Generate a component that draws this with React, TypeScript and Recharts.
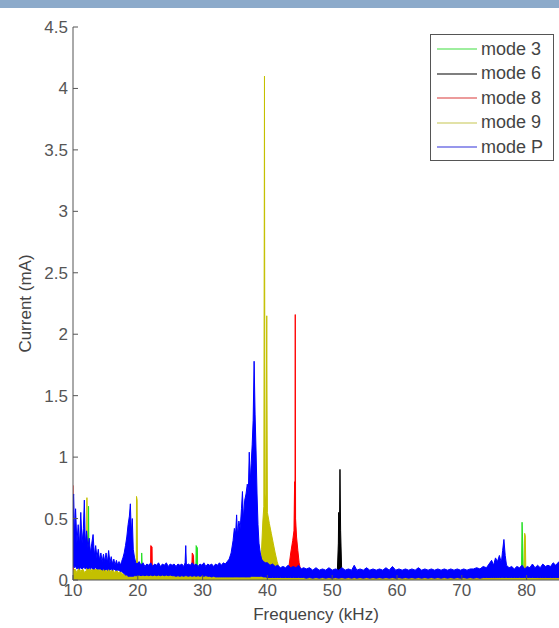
import React from 'react';
import { ComposedChart, Area, XAxis, YAxis, Legend } from 'recharts';

const FONT = '"Liberation Sans", Arial, sans-serif';

const xTicks = [10, 20, 30, 40, 50, 60, 70, 80];
const yTicks = [0, 0.5, 1, 1.5, 2, 2.5, 3, 3.5, 4, 4.5];

// [frequency kHz, current mA]
const mode3: [number, number][] = [
  [10, 0.02], [12.35, 0.02], [12.4, 0.6], [12.5, 0.02], [13.75, 0.02], [13.8, 0.22], [13.9, 0.02],
  [20.55, 0.02], [20.6, 0.22], [20.75, 0.02], [28.95, 0.02], [29.0, 0.28], [29.2, 0.26], [29.25, 0.02],
  [79.2, 0.02], [79.3, 0.47], [79.4, 0.3], [79.5, 0.02], [85, 0.02],
];

const mode6: [number, number][] = [
  [10, 0.01], [28.35, 0.01], [28.45, 0.18], [28.6, 0.15], [28.7, 0.01], [50.6, 0.01], [50.8, 0.08],
  [50.95, 0.3], [51.0, 0.55], [51.1, 0.25], [51.2, 0.9], [51.3, 0.4], [51.45, 0.1], [51.6, 0.02], [85, 0.01],
];

const mode8: [number, number][] = [
  [10, 0.77], [10.05, 0.02], [12, 0.02], [16, 0.02], [21.95, 0.02], [22.0, 0.28], [22.2, 0.27], [22.25, 0.02],
  [28.3, 0.02], [28.4, 0.22], [28.6, 0.2], [28.7, 0.02], [35, 0.02], [43.0, 0.03], [43.3, 0.1], [43.6, 0.22],
  [43.9, 0.32], [44.1, 0.4], [44.2, 0.8], [44.25, 0.45], [44.3, 2.16], [44.35, 0.5], [44.5, 0.35], [44.7, 0.24],
  [44.9, 0.14], [45.2, 0.06], [45.5, 0.02], [60, 0.015], [85, 0.015],
];

const mode9: [number, number][] = [
  [10, 0.07], [10.3, 0.09], [10.6, 0.06], [10.9, 0.1], [11.2, 0.07], [11.5, 0.09], [11.8, 0.06], [12.1, 0.08],
  [12.15, 0.67], [12.25, 0.08], [12.5, 0.1], [12.8, 0.07], [13.1, 0.11], [13.4, 0.08], [13.7, 0.1], [14.0, 0.07],
  [14.3, 0.11], [14.6, 0.08], [14.9, 0.1], [15.2, 0.07], [15.5, 0.09], [15.8, 0.07], [16.1, 0.09], [16.4, 0.06],
  [16.7, 0.08], [17.0, 0.06], [17.3, 0.07], [17.6, 0.05], [18.0, 0.04], [18.5, 0.03], [19.0, 0.03], [19.4, 0.04],
  [19.75, 0.05], [19.8, 0.68], [19.9, 0.65], [19.95, 0.05], [20.3, 0.06], [20.7, 0.05], [21.1, 0.06], [21.5, 0.05],
  [21.9, 0.06], [22.3, 0.05], [22.7, 0.06], [23.1, 0.05], [23.5, 0.06], [24, 0.05], [24.5, 0.06], [25, 0.05],
  [25.5, 0.05], [26, 0.04], [26.5, 0.05], [27, 0.04], [27.5, 0.05], [28, 0.04], [28.5, 0.05], [29, 0.04],
  [29.5, 0.05], [30, 0.04], [31, 0.04], [32, 0.03], [33, 0.03], [34, 0.03], [35, 0.03], [36, 0.03], [37, 0.03],
  [37.8, 0.04], [38.2, 0.12], [38.4, 0.05], [38.9, 0.1], [39.1, 0.25], [39.3, 0.48], [39.45, 0.6], [39.55, 4.1],
  [39.62, 0.7], [39.75, 0.62], [39.9, 2.15], [40.0, 0.55], [40.3, 0.46], [40.6, 0.38], [40.9, 0.3], [41.2, 0.22],
  [41.5, 0.15], [41.8, 0.1], [42.2, 0.05], [43, 0.03], [45, 0.02], [50, 0.015], [55, 0.015], [60, 0.015],
  [65, 0.015], [70, 0.015], [75, 0.015], [79.6, 0.02], [79.7, 0.38], [79.8, 0.36], [79.9, 0.02], [82, 0.015],
  [85, 0.015],
];

// [frequency kHz, lower edge, upper edge] of the dense mode P trace
const modeP: [number, number, number][] = [
  [10.0, 0.1, 0.62], [10.1, 0.12, 0.7], [10.25, 0.1, 0.35], [10.4, 0.11, 0.58], [10.6, 0.09, 0.3],
  [10.8, 0.1, 0.45], [11.0, 0.09, 0.28], [11.2, 0.1, 0.55], [11.4, 0.09, 0.3], [11.6, 0.1, 0.42],
  [11.75, 0.1, 0.65], [11.9, 0.09, 0.3], [12.1, 0.1, 0.4], [12.3, 0.09, 0.26], [12.5, 0.1, 0.34],
  [12.7, 0.09, 0.22], [12.9, 0.1, 0.3], [13.1, 0.09, 0.37], [13.3, 0.09, 0.2], [13.5, 0.1, 0.28],
  [13.7, 0.09, 0.18], [13.9, 0.09, 0.25], [14.1, 0.09, 0.16], [14.3, 0.09, 0.22], [14.5, 0.08, 0.15],
  [14.7, 0.09, 0.21], [14.9, 0.08, 0.15], [15.1, 0.09, 0.22], [15.3, 0.08, 0.14], [15.5, 0.09, 0.24],
  [15.7, 0.08, 0.14], [15.9, 0.09, 0.19], [16.1, 0.08, 0.13], [16.3, 0.09, 0.17], [16.5, 0.08, 0.12],
  [16.7, 0.08, 0.16], [16.9, 0.08, 0.12], [17.1, 0.08, 0.15], [17.3, 0.07, 0.12], [17.5, 0.07, 0.15],
  [17.7, 0.06, 0.18], [17.9, 0.05, 0.22], [18.1, 0.04, 0.28], [18.3, 0.04, 0.35], [18.5, 0.03, 0.45],
  [18.7, 0.03, 0.52], [18.85, 0.03, 0.62], [19.0, 0.03, 0.38], [19.15, 0.03, 0.5], [19.3, 0.03, 0.25],
  [19.5, 0.035, 0.18], [19.7, 0.035, 0.14], [19.9, 0.035, 0.13], [20.2, 0.04, 0.15], [20.5, 0.035, 0.12],
  [20.8, 0.04, 0.14], [21.1, 0.035, 0.11], [21.4, 0.04, 0.13], [21.7, 0.035, 0.12], [22.0, 0.04, 0.14],
  [22.3, 0.035, 0.11], [22.6, 0.04, 0.13], [22.9, 0.035, 0.12], [23.2, 0.04, 0.14], [23.5, 0.035, 0.11],
  [23.8, 0.04, 0.13], [24.1, 0.035, 0.12], [24.4, 0.04, 0.14], [24.7, 0.035, 0.11], [25.0, 0.04, 0.13],
  [25.3, 0.035, 0.12], [25.6, 0.035, 0.13], [25.9, 0.03, 0.11], [26.2, 0.035, 0.13], [26.5, 0.03, 0.12],
  [26.8, 0.035, 0.13], [27.1, 0.03, 0.11], [27.3, 0.035, 0.14], [27.4, 0.035, 0.28], [27.5, 0.035, 0.12],
  [27.8, 0.03, 0.13], [28.1, 0.035, 0.12], [28.4, 0.03, 0.14], [28.7, 0.035, 0.12], [29.0, 0.03, 0.13],
  [29.3, 0.035, 0.11], [29.6, 0.03, 0.13], [29.9, 0.035, 0.12], [30.2, 0.03, 0.14], [30.5, 0.035, 0.11],
  [30.8, 0.03, 0.13], [31.1, 0.03, 0.12], [31.4, 0.025, 0.13], [31.7, 0.03, 0.11], [32.0, 0.025, 0.13],
  [32.3, 0.025, 0.12], [32.6, 0.025, 0.14], [32.9, 0.025, 0.12], [33.2, 0.025, 0.14], [33.5, 0.025, 0.13],
  [33.8, 0.025, 0.15], [34.1, 0.025, 0.17], [34.4, 0.025, 0.22], [34.7, 0.025, 0.32], [34.9, 0.025, 0.42],
  [35.1, 0.025, 0.38], [35.25, 0.025, 0.53], [35.4, 0.025, 0.36], [35.6, 0.025, 0.48], [35.8, 0.025, 0.42],
  [36.0, 0.025, 0.58], [36.15, 0.025, 0.72], [36.3, 0.025, 0.5], [36.5, 0.025, 0.65], [36.7, 0.025, 0.7],
  [36.9, 0.025, 0.78], [37.05, 0.025, 0.7], [37.2, 0.025, 1.04], [37.35, 0.025, 0.8], [37.5, 0.03, 0.95],
  [37.65, 0.03, 1.1], [37.8, 0.03, 1.3], [37.95, 0.03, 1.78], [38.1, 0.03, 1.35], [38.25, 0.03, 1.05],
  [38.4, 0.03, 0.7], [38.55, 0.03, 0.45], [38.7, 0.03, 0.3], [38.9, 0.03, 0.22], [39.1, 0.03, 0.17],
  [39.4, 0.025, 0.15], [39.7, 0.025, 0.14], [40.0, 0.02, 0.14], [40.4, 0.02, 0.12], [40.8, 0.02, 0.13],
  [41.2, 0.02, 0.11], [41.6, 0.02, 0.12], [42.0, 0.02, 0.1], [42.4, 0.02, 0.11], [42.8, 0.02, 0.1],
  [43.2, 0.02, 0.12], [43.6, 0.02, 0.1], [44.0, 0.02, 0.11], [44.4, 0.02, 0.1], [44.8, 0.02, 0.12],
  [45.2, 0.02, 0.09], [45.6, 0.02, 0.1], [46.0, 0.015, 0.09], [46.5, 0.02, 0.1], [47.0, 0.015, 0.08],
  [47.5, 0.02, 0.1], [48.0, 0.015, 0.08], [48.5, 0.02, 0.09], [49.0, 0.015, 0.08], [49.5, 0.02, 0.1],
  [50.0, 0.015, 0.08], [50.5, 0.02, 0.09], [51.0, 0.015, 0.08], [51.5, 0.02, 0.1], [52.0, 0.015, 0.08],
  [52.5, 0.02, 0.09], [53.0, 0.015, 0.08], [53.4, 0.02, 0.12], [53.8, 0.015, 0.08], [54.3, 0.02, 0.09],
  [54.8, 0.015, 0.08], [55.3, 0.02, 0.1], [55.8, 0.015, 0.08], [56.3, 0.02, 0.09], [56.8, 0.015, 0.08],
  [57.3, 0.02, 0.09], [57.8, 0.015, 0.08], [58.3, 0.02, 0.1], [58.8, 0.015, 0.08], [59.3, 0.02, 0.11],
  [59.8, 0.015, 0.08], [60.3, 0.02, 0.09], [60.8, 0.015, 0.08], [61.3, 0.02, 0.09], [61.8, 0.015, 0.08],
  [62.3, 0.02, 0.09], [62.8, 0.015, 0.08], [63.3, 0.02, 0.1], [63.8, 0.015, 0.08], [64.3, 0.02, 0.09],
  [64.8, 0.015, 0.08], [65.3, 0.02, 0.09], [65.8, 0.015, 0.08], [66.3, 0.02, 0.09], [66.8, 0.015, 0.08],
  [67.3, 0.02, 0.09], [67.8, 0.015, 0.08], [68.3, 0.02, 0.09], [68.8, 0.015, 0.08], [69.3, 0.02, 0.09],
  [69.8, 0.015, 0.08], [70.3, 0.02, 0.09], [70.8, 0.015, 0.08], [71.3, 0.02, 0.09], [71.8, 0.015, 0.09],
  [72.3, 0.02, 0.1], [72.8, 0.015, 0.09], [73.3, 0.02, 0.11], [73.8, 0.02, 0.1], [74.2, 0.02, 0.13],
  [74.6, 0.02, 0.16], [74.9, 0.02, 0.12], [75.2, 0.02, 0.18], [75.5, 0.02, 0.15], [75.8, 0.02, 0.2],
  [76.1, 0.02, 0.14], [76.3, 0.02, 0.24], [76.5, 0.02, 0.33], [76.7, 0.02, 0.2], [76.9, 0.02, 0.12],
  [77.3, 0.02, 0.1], [77.7, 0.02, 0.11], [78.1, 0.02, 0.09], [78.5, 0.02, 0.11], [78.9, 0.02, 0.1],
  [79.3, 0.02, 0.12], [79.7, 0.02, 0.09], [80.1, 0.02, 0.11], [80.5, 0.02, 0.1], [80.9, 0.02, 0.13],
  [81.3, 0.02, 0.1], [81.7, 0.02, 0.12], [82.1, 0.02, 0.1], [82.5, 0.02, 0.13], [82.9, 0.02, 0.11],
  [83.3, 0.02, 0.12], [83.7, 0.02, 0.11], [84.1, 0.02, 0.14], [84.5, 0.02, 0.12], [85.0, 0.02, 0.15],
];

const series = [
  { name: 'mode 3', points: mode3, color: '#22e022', legendColor: '#7ee87e' },
  { name: 'mode 6', points: mode6, color: '#000000', legendColor: '#555555' },
  { name: 'mode 8', points: mode8, color: '#ff0000', legendColor: '#e67a7a' },
  { name: 'mode 9', points: mode9, color: '#c4c000', legendColor: '#d8d88a' },
];
const modePColor = '#0000ff';

const toRows = (pts: [number, number][]) => pts.map(([f, v]) => ({ f, v }));
const modePRows = modeP.map(([f, lo, hi]) => ({ f, r: [lo, hi] }));

const legendItems = [
  ...series.map((s) => ({ name: s.name, color: s.legendColor })),
  { name: 'mode P', color: '#7474e6' },
];

const renderLegend = () => (
  <div
    style={{
      width: 124,
      height: 127,
      boxSizing: 'border-box',
      border: '1px solid #555',
      background: '#fff',
      paddingTop: 2,
      fontFamily: FONT,
      fontSize: 18,
      color: '#444',
    }}
  >
    {legendItems.map((it) => (
      <div key={it.name} style={{ display: 'flex', alignItems: 'center', height: 24.5 }}>
        <svg width={50} height={4} style={{ marginLeft: 6 }}>
          <line x1={0} y1={2} x2={40} y2={2} stroke={it.color} strokeWidth={1.5} />
        </svg>
        <span style={{ marginLeft: -6 }}>{it.name}</span>
      </div>
    ))}
  </div>
);

const tickStyle = { fill: '#555', fontSize: 17, fontFamily: FONT };

export default function App() {
  return (
    <div style={{ position: 'absolute', left: 0, top: 0, width: 559, height: 628, background: '#fff' }}>
      <div style={{ position: 'absolute', left: 0, top: 0, width: 559, height: 8, background: '#8caaca' }} />
      <ComposedChart width={559} height={628} margin={{ top: 27, right: 0, bottom: 0, left: 0 }}>
        <XAxis
          dataKey="f"
          type="number"
          domain={[10, 85]}
          ticks={xTicks}
          interval={0}
          allowDataOverflow
          height={48}
          tickSize={-5}
          tickMargin={9}
          stroke="#555"
          tick={tickStyle}
          label={{ value: 'Frequency (kHz)', position: 'insideBottom', offset: 8, fill: '#444', fontSize: 17, fontFamily: FONT }}
        />
        <XAxis xAxisId="top" orientation="top" type="number" domain={[10, 85]} ticks={xTicks} interval={0} height={0} tickSize={-5} tick={false} stroke="#555" />
        <YAxis
          type="number"
          domain={[0, 4.5]}
          ticks={yTicks}
          interval={0}
          allowDataOverflow
          width={73}
          tickSize={-5}
          tickMargin={10}
          stroke="#555"
          tick={tickStyle}
          label={{ value: 'Current (mA)', angle: -90, position: 'insideLeft', offset: 25, fill: '#444', fontSize: 17, fontFamily: FONT, style: { textAnchor: 'middle' } }}
        />
        <YAxis yAxisId="right" orientation="right" type="number" domain={[0, 4.5]} ticks={yTicks} interval={0} width={0} tickSize={-5} tick={false} stroke="#555" />
        {series.map((s) => (
          <Area
            key={s.name}
            name={s.name}
            data={toRows(s.points)}
            dataKey="v"
            type="linear"
            stroke={s.color}
            strokeWidth={1}
            fill={s.color}
            fillOpacity={1}
            dot={false}
            activeDot={false}
            isAnimationActive={false}
          />
        ))}
        <Area
          name="mode P"
          data={modePRows}
          dataKey="r"
          type="linear"
          stroke={modePColor}
          strokeWidth={1}
          fill={modePColor}
          fillOpacity={1}
          dot={false}
          activeDot={false}
          isAnimationActive={false}
        />
        <Legend
          layout="horizontal"
          verticalAlign="middle"
          align="center"
          content={renderLegend}
          wrapperStyle={{ top: 34, left: 430, width: 124, height: 127 }}
        />
      </ComposedChart>
    </div>
  );
}
